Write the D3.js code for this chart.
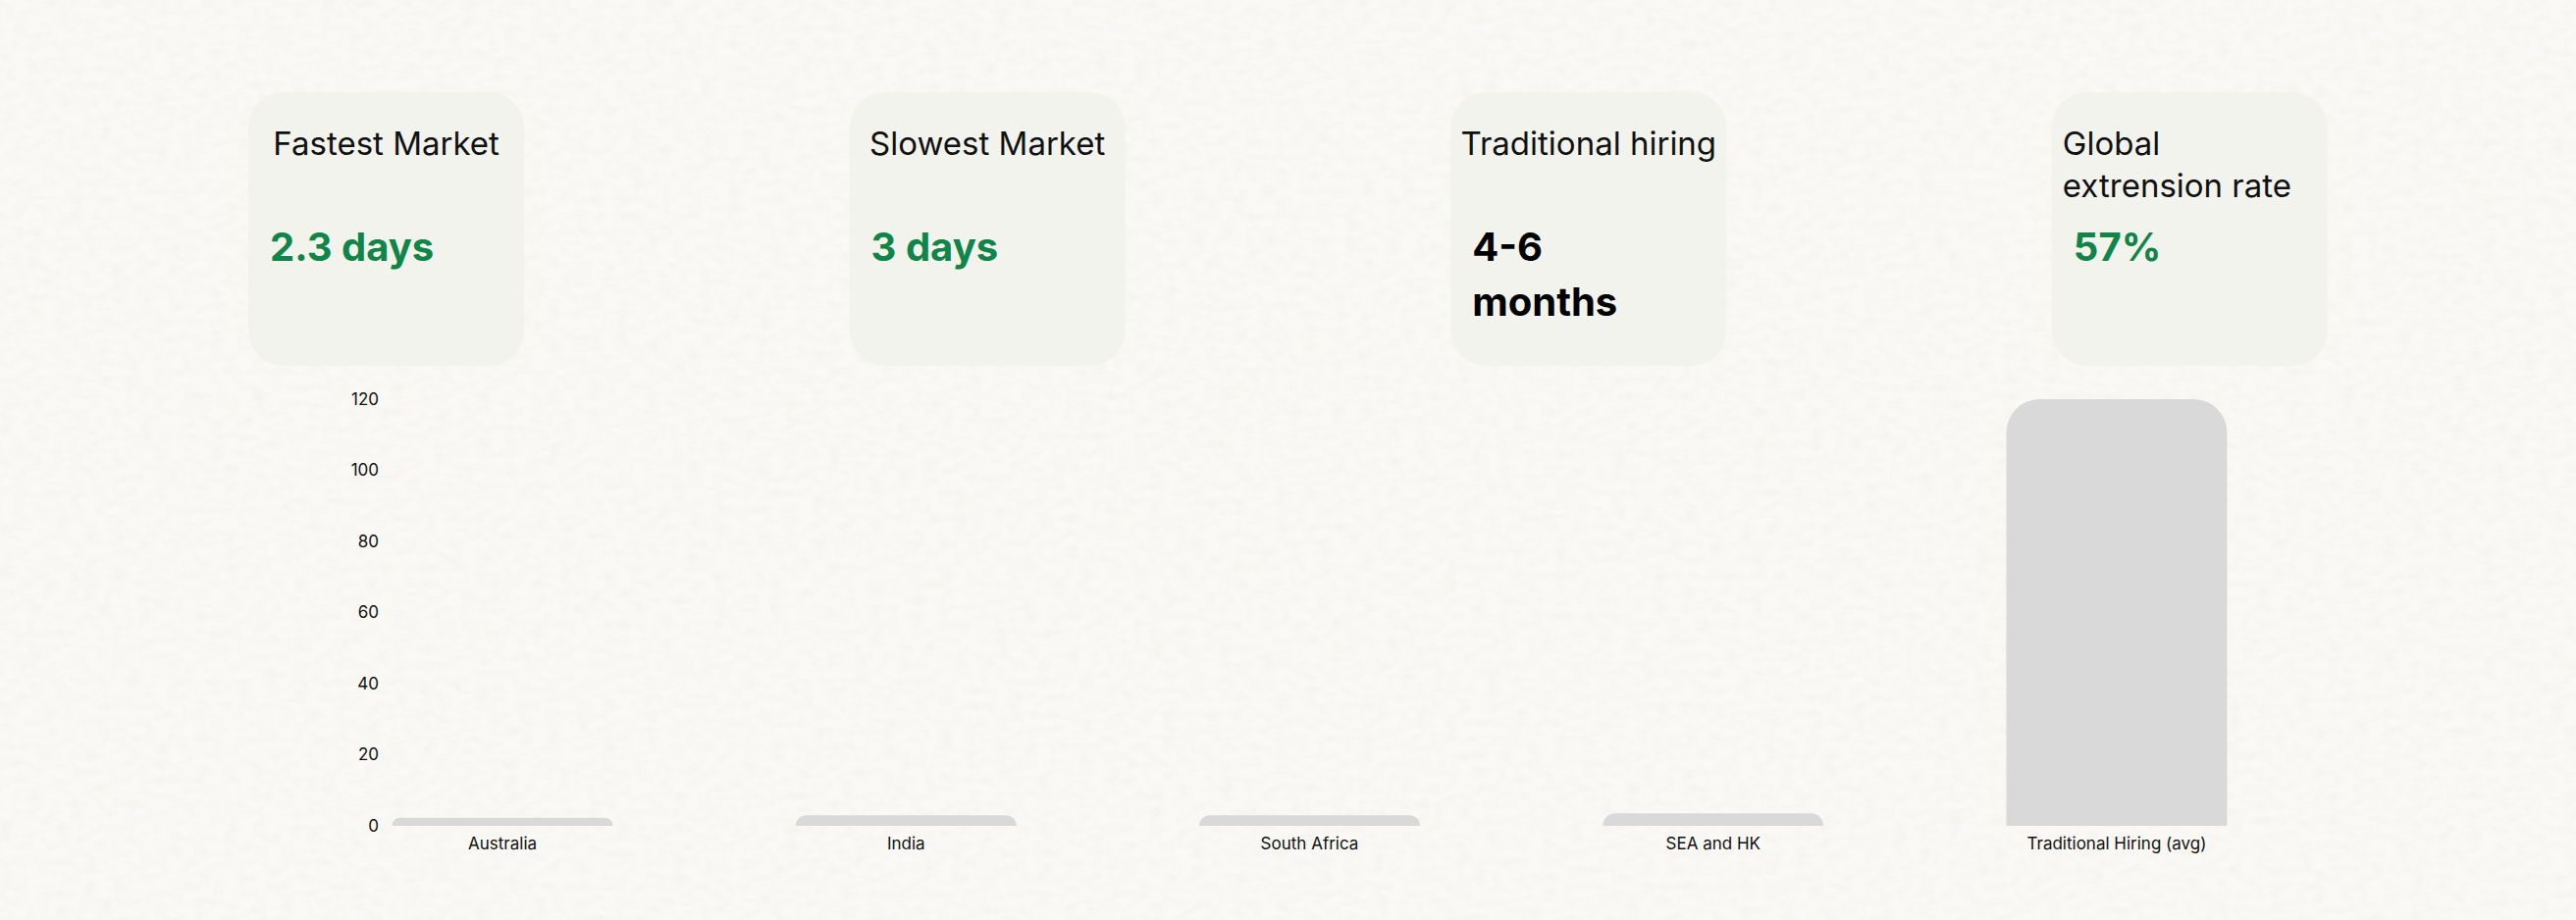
<!DOCTYPE html>
<html>
<head>
<meta charset="utf-8">
<script src="https://cdn.jsdelivr.net/npm/d3@7"></script>
<style>
  html, body { margin: 0; padding: 0; background: #faf9f5; }
  #chart { width: 2625px; height: 938px; }
  text { font-family: Inter, "Noto Sans", sans-serif; }
</style>
</head>
<body>
<div id="chart"></div>
<script>
// stat cards
const cardTitles = [["Fastest Market"], ["Slowest Market"], ["Traditional hiring"], ["Global", "extrension rate"]];
const cardValues = [["2.3 days"], ["3 days"], ["4-6", "months"], ["57%"]];
const cardAccent = [true, true, false, true];

// bar chart
const markets = ["Australia", "India", "South Africa", "SEA and HK", "Traditional Hiring (avg)"];
const days = [2.3, 3, 3, 3.5, 120];
const yTicks = [0, 20, 40, 60, 80, 100, 120];

const W = 2625, H = 938;

let svg = d3.select("#chart").append("svg").attr("width", W).attr("height", H);

// paper texture
let defs = svg.append("defs");
let paper = defs.append("filter").attr("id", "paper").attr("x", 0).attr("y", 0).attr("width", "100%").attr("height", "100%");
paper.append("feTurbulence").attr("type", "fractalNoise").attr("baseFrequency", "0.07 0.12").attr("numOctaves", 3).attr("seed", 7);
paper.append("feColorMatrix").attr("type", "matrix")
  .attr("values", "0 0 0 0 0.55  0 0 0 0 0.54  0 0 0 0 0.50  0 0 0 -1.6 1.05");

svg.append("rect").attr("width", W).attr("height", H).attr("fill", "#faf9f5");
svg.append("rect").attr("width", W).attr("height", H).attr("filter", "url(#paper)").attr("opacity", 0.1);

// cards
let cardX = d3.scaleBand().domain(d3.range(cardTitles.length)).range([253, 2372]).paddingInner(0.541);
let cardTop = 94, cardH = 279;

let cards = svg.append("g").selectAll("g").data(cardTitles).join("g")
  .attr("transform", (d, i) => `translate(${cardX(i)},${cardTop})`);

cards.append("rect")
  .attr("width", cardX.bandwidth())
  .attr("height", cardH)
  .attr("rx", 36)
  .attr("fill", "#f3f3ee");

cards.each(function (lines, i) {
  let g = d3.select(this);
  let w = cardX.bandwidth();
  let wrapped = lines.length > 1;
  let t = g.append("text")
    .attr("font-size", 33)
    .attr("fill", "#111")
    .attr("text-anchor", wrapped ? "start" : "middle");
  lines.forEach((l, j) => {
    t.append("tspan").attr("x", wrapped ? 11 : w / 2).attr("y", 64 + j * 43).text(l);
  });

  let v = g.append("text")
    .attr("font-size", 40)
    .attr("font-weight", 700)
    .attr("fill", cardAccent[i] ? "#108548" : "#000");
  cardValues[i].forEach((l, j) => {
    v.append("tspan").attr("x", 22).attr("y", 172 + j * 56).text(l);
  });
});

// bars
let x = d3.scaleBand().domain(markets).range([306.4, 2362.6]).paddingInner(0.453).paddingOuter(0.2265);
let y = d3.scaleLinear().domain([0, 120]).range([842, 407]);

svg.append("g")
  .attr("transform", "translate(396,0)")
  .call(d3.axisLeft(y).tickValues(yTicks).tickSize(0).tickPadding(10))
  .call((g) => g.select(".domain").remove())
  .call((g) => g.selectAll("text").attr("font-size", 17).attr("fill", "#111").attr("font-family", "Inter"));

svg.append("g")
  .attr("transform", `translate(0,${y(0)})`)
  .call(d3.axisBottom(x).tickSize(0).tickPadding(12))
  .call((g) => g.select(".domain").remove())
  .call((g) => g.selectAll("text").attr("font-size", 17).attr("fill", "#111").attr("font-family", "Inter"));

let topRounded = (x0, y0, w, h, r) => {
  r = Math.min(r, h, w / 2);
  return `M${x0},${y0 + h}V${y0 + r}A${r},${r} 0 0 1 ${x0 + r},${y0}H${x0 + w - r}A${r},${r} 0 0 1 ${x0 + w},${y0 + r}V${y0 + h}Z`;
};

svg.append("g").selectAll("path").data(markets).join("path")
  .attr("fill", "#d9d9d9")
  .attr("d", (d, i) => topRounded(x(d), y(days[i]), x.bandwidth(), y(0) - y(days[i]), 34));
</script>
</body>
</html>
